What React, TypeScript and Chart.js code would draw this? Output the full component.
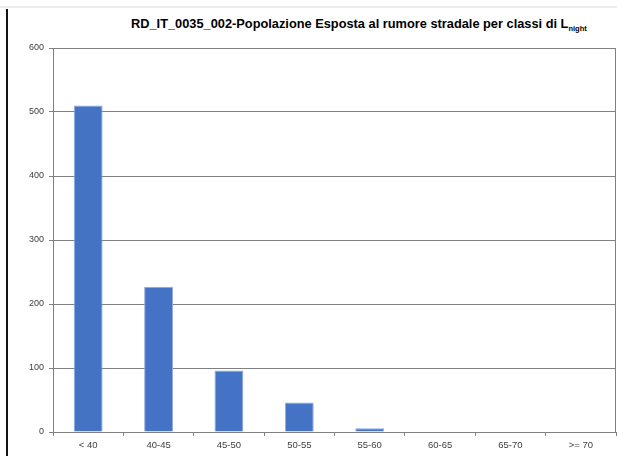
import React, { useEffect, useRef } from "react";
import { Chart, registerables } from "chart.js";

Chart.register(...registerables);

// Noise exposure classes (L_night, dB) and exposed population
const categories = ["< 40", "40-45", "45-50", "50-55", "55-60", "60-65", "65-70", ">= 70"];
const population = [510, 227, 96, 46, 6, 0, 0, 0];
const yMin = 0;
const yMax = 600;
const yStep = 100;

const LINE = "#808080";
const LABEL = "#404040";

// Closes the plot area on the right side
const plotFrame = {
  id: "plotFrame",
  afterDraw(chart: any) {
    const { ctx, chartArea } = chart;
    const x = Math.round(chartArea.right) - 0.5;
    ctx.save();
    ctx.strokeStyle = LINE;
    ctx.lineWidth = 1;
    ctx.beginPath();
    ctx.moveTo(x, chartArea.top);
    ctx.lineTo(x, chartArea.bottom);
    ctx.stroke();
    ctx.restore();
  },
};

export default function App() {
  const canvasRef = useRef<HTMLCanvasElement | null>(null);

  useEffect(() => {
    if (!canvasRef.current) return;
    const chart = new Chart(canvasRef.current, {
      type: "bar",
      data: {
        labels: categories,
        datasets: [
          {
            data: population,
            backgroundColor: "#4472C4",
            borderColor: "#8faadc",
            borderWidth: 1,
            barPercentage: 0.41,
            categoryPercentage: 1,
          },
        ],
      },
      options: {
        responsive: false,
        animation: false,
        layout: { padding: { left: 0, top: 48, right: 1, bottom: 0 } },
        plugins: {
          legend: { display: false },
          title: { display: false },
          tooltip: { enabled: false },
        },
        scales: {
          x: {
            afterFit(scale: any) {
              scale.height = 24;
            },
            grid: {
              offset: true,
              drawOnChartArea: false,
              color: LINE,
              tickLength: 4,
            },
            border: { color: LINE },
            ticks: {
              color: LABEL,
              padding: 4,
              font: { family: "'Liberation Sans', Arial, sans-serif", size: 9.5 },
            },
          },
          y: {
            min: yMin,
            max: yMax,
            afterFit(scale: any) {
              scale.width = 53;
            },
            grid: { color: LINE, tickLength: 4 },
            border: { color: LINE },
            ticks: {
              stepSize: yStep,
              color: LABEL,
              padding: 5,
              font: { family: "'Liberation Sans', Arial, sans-serif", size: 9 },
            },
          },
        },
      },
      plugins: [plotFrame],
    });
    return () => chart.destroy();
  }, []);

  return (
    <div
      style={{
        position: "fixed",
        left: 0,
        top: 0,
        width: 617,
        height: 456,
        background: "#ffffff",
        overflow: "hidden",
      }}
    >
      <div style={{ position: "absolute", left: 0, top: 6, width: 617, height: 2, background: "#ececec" }} />
      <div style={{ position: "absolute", left: 6, top: 9, width: 2, height: 447, background: "#141414" }} />
      <div
        style={{
          position: "absolute",
          left: 131,
          top: 16,
          fontFamily: "'Liberation Sans', Arial, sans-serif",
          fontWeight: "bold",
          fontSize: 12.8,
          lineHeight: "16px",
          color: "#000",
          whiteSpace: "nowrap",
        }}
      >
        RD_IT_0035_002-Popolazione Esposta al rumore stradale per classi di L
        <span style={{ fontSize: 7.5, position: "relative", top: 3 }}>night</span>
      </div>
      <canvas ref={canvasRef} width={617} height={456} style={{ position: "absolute", left: 0, top: 0 }} />
    </div>
  );
}
